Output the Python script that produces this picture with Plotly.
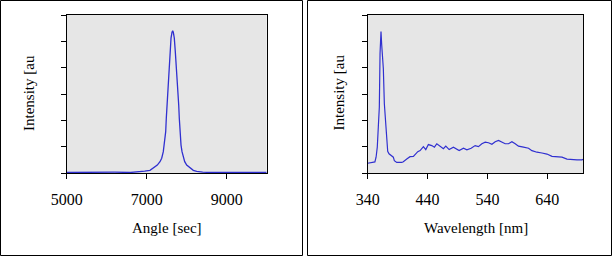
import plotly.graph_objects as go

# ---- data ----
angle_sec = [5000, 5400, 5800, 6200, 6600, 6800, 6950, 7082, 7165, 7265, 7332, 7375, 7415,
             7440, 7475, 7490, 7508, 7525, 7540, 7558, 7583, 7608, 7633, 7650, 7665,
             7690, 7715, 7740, 7765, 7783, 7800, 7815, 7833, 7858, 7883, 7915, 7950,
             8000, 8083, 8165, 8250, 8400, 8600, 9000, 9500, 10000]
angle_int = [0.02, 0.03, 0.02, 0.03, 0.02, 0.04, 0.07, 0.10, 0.18, 0.30, 0.43, 0.56, 0.81,
             1.06, 1.57, 2.08, 2.59, 3.09, 3.60, 4.11, 4.61, 5.12, 5.35, 5.40, 5.35,
             5.12, 4.61, 4.11, 3.60, 3.09, 2.59, 2.08, 1.57, 1.06, 0.81, 0.56, 0.43,
             0.30, 0.18, 0.10, 0.06, 0.03, 0.02, 0.02, 0.03, 0.02]

wl_nm = [340, 352, 354, 356, 357.7, 359.4, 360.6, 362.2, 363.4, 364.4, 366.1, 367.8,
         370.1, 371.8, 373.4, 375.6, 379, 382.8, 384.5, 385.7, 388.5, 396.9, 399.5,
         405.2, 410.7, 416.3, 420.3, 423.6, 427.5, 433, 437, 441.3, 447, 451.4, 455.4,
         460.9, 466.4, 470.4, 476, 483.1, 488.8, 492.7, 499.9, 505.6, 512.7, 519.4,
         524.9, 530.6, 536.2, 541.7, 547.4, 552.9, 558.4, 564.1, 569.6, 575.1, 580.8,
         586.3, 591.8, 600.2, 608.6, 614.2, 622.6, 631, 639.3, 647.7, 656.1, 664.4,
         672.8, 681.1, 689.5, 697.9, 700]
wl_int = [0.37, 0.42, 0.60, 0.98, 1.74, 2.50, 4.54, 5.37, 4.86, 4.54, 3.97, 2.63,
          1.74, 1.36, 0.82, 0.73, 0.66, 0.60, 0.47, 0.44, 0.40, 0.40, 0.43,
          0.53, 0.62, 0.63, 0.72, 0.81, 0.85, 1.00, 0.89, 1.08, 1.04, 0.98, 1.11,
          1.02, 0.92, 1.02, 0.89, 0.98, 0.89, 0.85, 0.94, 0.88, 0.94, 1.04,
          1.00, 1.11, 1.17, 1.15, 1.09, 1.19, 1.24, 1.17, 1.11, 1.11, 1.19,
          1.11, 1.02, 0.98, 0.94, 0.85, 0.79, 0.76, 0.72, 0.63, 0.62, 0.60,
          0.53, 0.51, 0.50, 0.50, 0.52]

left_xticks = [5000, 7000, 9000]
right_xticks = [340, 440, 540, 640]
y_ticks = [0, 1, 2, 3, 4, 5, 6]

W, H = 612, 256
LINE = "#3030D0"
FONT = "Liberation Serif"

def px(x):
    return x / W

def py(y):
    return 1 - y / H

ydom = [py(173), py(15)]
lx = [px(66.7), px(266.7)]
rx = [px(367.7), px(583.3)]

fig = go.Figure()
fig.add_trace(go.Scatter(x=angle_sec, y=angle_int, mode="lines",
                         line=dict(color=LINE, width=1.3), xaxis="x", yaxis="y"))
fig.add_trace(go.Scatter(x=wl_nm, y=wl_int, mode="lines",
                         line=dict(color=LINE, width=1.2), xaxis="x2", yaxis="y2"))

xcommon = dict(showline=True, linecolor="black", linewidth=1, mirror=True,
               ticks="outside", ticklen=5, tickcolor="black", tickwidth=1,
               showgrid=False, zeroline=False, automargin=False,
               ticklabelstandoff=7,
               tickfont=dict(family=FONT, size=16, color="black"))
ycommon = dict(showline=True, linecolor="black", linewidth=1, mirror=True,
               ticks="outside", ticklen=5, tickcolor="black", tickwidth=1,
               showgrid=False, zeroline=False, showticklabels=False, automargin=False,
               range=[0, 6], tickvals=y_ticks, domain=ydom)

inside_common = dict(showline=False, ticks="inside", ticklen=4, tickcolor="black",
                     tickwidth=1, showgrid=False, zeroline=False, showticklabels=False)

fig.update_layout(
    width=W, height=H, autosize=False,
    margin=dict(l=0, r=0, t=0, b=0, pad=0, autoexpand=False),
    paper_bgcolor="white", plot_bgcolor="#E6E6E6",
    showlegend=False,
    xaxis=dict(domain=lx, range=[5000, 10000], tickvals=left_xticks,
               anchor="y", **xcommon),
    yaxis=dict(anchor="x", **ycommon),
    xaxis2=dict(domain=rx, range=[340, 700], tickvals=right_xticks,
                anchor="y2", **xcommon),
    yaxis2=dict(anchor="x2", **ycommon),
    xaxis3=dict(overlaying="x", anchor="y", range=[5000, 10000],
                tickvals=left_xticks, **inside_common),
    xaxis4=dict(overlaying="x2", anchor="y2", range=[340, 700],
                tickvals=right_xticks, **inside_common),
)

# outer frames
fig.add_shape(type="rect", xref="paper", yref="paper",
              x0=px(0.5), x1=px(302.5), y0=py(255.5), y1=py(0.5),
              line=dict(color="black", width=1), layer="below")
fig.add_shape(type="rect", xref="paper", yref="paper",
              x0=px(307.5), x1=px(611.5), y0=py(255.5), y1=py(0.5),
              line=dict(color="black", width=1), layer="below")

tfont = dict(family=FONT, size=15, color="black")
for xc, text in [((66.7 + 266.7) / 2, "Angle [sec]"), ((367.7 + 583.3) / 2, "Wavelength [nm]")]:
    fig.add_annotation(x=px(xc), y=py(227.5), xref="paper", yref="paper",
                       text=text, showarrow=False, font=tfont,
                       xanchor="center", yanchor="middle")
for xc in [29, 338.5]:
    fig.add_annotation(x=px(xc), y=py(93), xref="paper", yref="paper",
                       text="Intensity [au", showarrow=False, font=tfont,
                       textangle=-90, xanchor="center", yanchor="middle")

fig.write_html("out.html", config={"displayModeBar": False},
               post_script="document.body.style.margin='0';document.body.style.overflow='hidden';")
